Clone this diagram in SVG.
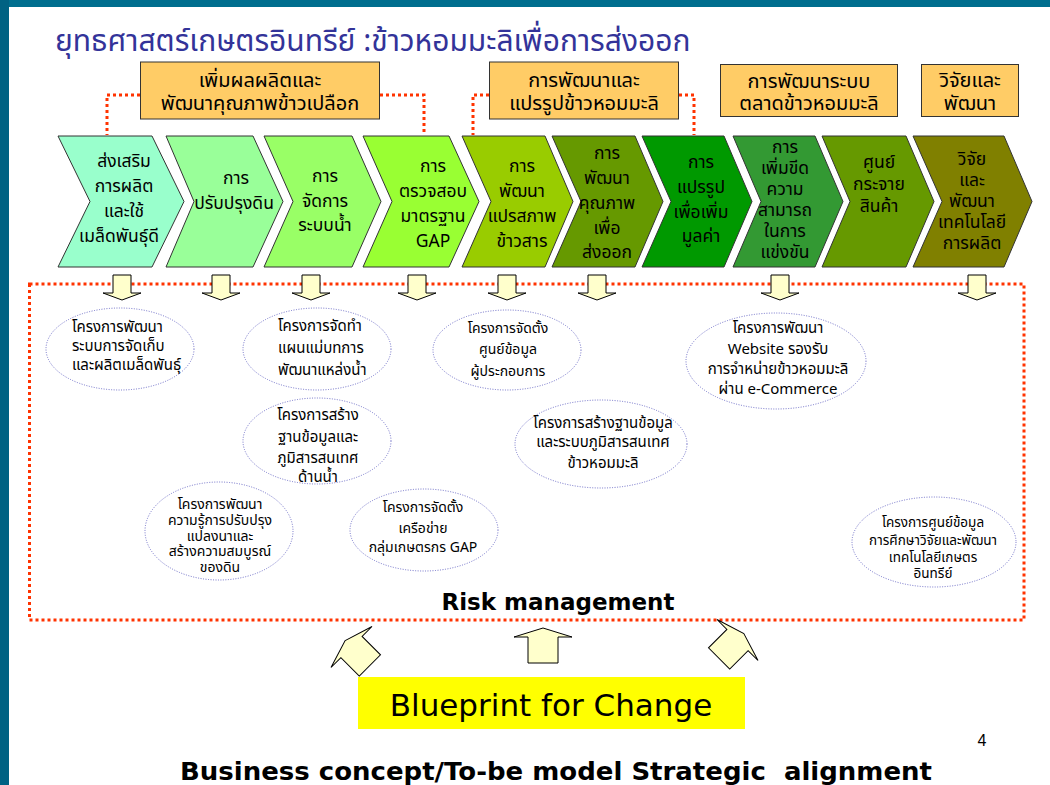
<svg xmlns="http://www.w3.org/2000/svg" width="1050" height="785" viewBox="0 0 1050 785">
  <style>
    .th { font-family: Tahoma, "Noto Sans Thai", "Noto Sans Thai UI", "Noto Sans", "DejaVu Sans", sans-serif; fill: #000; }
    .title { font-size: 30px; fill: #333399; }
    .hdr rect { fill: #FFCC66; stroke: #333; stroke-width: 1; }
    .hdr text { font-size: 20px; text-anchor: middle; }
    .chev polygon { stroke: #333; stroke-width: 1; }
    .chev text { font-size: 17.5px; text-anchor: middle; }
    .proj ellipse { fill: #fff; stroke: #6F6FC8; stroke-width: 1; stroke-dasharray: 1 1.5; }
    .proj text { font-size: 15px; text-anchor: middle; }
    .proj text.left { text-anchor: start; }
    .proj.sm text { font-size: 14px; }
    .proj.xs text { font-size: 13.5px; }
    .red { fill: none; stroke: #FF3300; stroke-width: 3; stroke-dasharray: 3 3; }
    .blk { fill: #FFFFCC; stroke: #000; stroke-width: 1; }
    .bold { font-family: "DejaVu Sans", Verdana, sans-serif; font-weight: bold; fill: #000; }
  </style>
  <defs>
    <!-- small down block arrow, origin at top centre -->
    <polygon id="down" points="-9,0 9,0 9,18 19,18 0,25 -19,18 -9,18" class="blk"/>
    <!-- wide up block arrow, origin at the middle of the head base -->
    <polygon id="up" points="0,-9 29,0 15,0 15,26 -15,26 -15,0 -29,0" class="blk"/>
  </defs>

  <rect width="1050" height="785" fill="#fff"/>
  <!-- slide frame -->
  <rect x="0" y="0" width="1050" height="7" fill="#006E8E"/>
  <rect x="0" y="0" width="9" height="785" fill="#006283"/>

  <text class="th title" x="55" y="51">ยุทธศาสตร์เกษตรอินทรีย์ :ข้าวหอมมะลิเพื่อการส่งออก</text>

  <!-- connectors: dotted brackets, risk frame and arrows -->
  <g id="connectors">
    <polyline class="red" points="140,95 107,95 107,135"/>
    <polyline class="red" points="380,95 424,95 424,135"/>
    <polyline class="red" points="489,95 473,95 473,135"/>
    <polyline class="red" points="679,95 694,95 694,135"/>
    <rect class="red" x="29.5" y="284" width="994.5" height="336"/>
    <use href="#down" x="122" y="275"/>
    <use href="#down" x="221" y="275"/>
    <use href="#down" x="311" y="275"/>
    <use href="#down" x="417" y="275"/>
    <use href="#down" x="507" y="275"/>
    <use href="#down" x="597" y="275"/>
    <use href="#down" x="780" y="275"/>
    <use href="#down" x="977" y="275"/>
    <use href="#up" transform="translate(351.5,647) rotate(-45)"/>
    <use href="#up" transform="translate(543,637)"/>
    <use href="#up" transform="translate(737.5,640) rotate(45)"/>
  </g>

  <!-- theme headers -->
  <g id="hdr1" class="hdr">
    <rect x="140.5" y="62" width="239" height="57"/>
    <text class="th" x="260" y="87">เพิ่มผลผลิตและ</text>
    <text class="th" x="260" y="110">พัฒนาคุณภาพข้าวเปลือก</text>
  </g>
  <g id="hdr2" class="hdr">
    <rect x="489.5" y="62" width="189" height="57"/>
    <text class="th" x="584" y="87">การพัฒนาและ</text>
    <text class="th" x="584" y="110">แปรรูปข้าวหอมมะลิ</text>
  </g>
  <g id="hdr3" class="hdr">
    <rect x="720.5" y="64.5" width="177" height="52"/>
    <text class="th" x="809" y="88">การพัฒนาระบบ</text>
    <text class="th" x="809" y="110">ตลาดข้าวหอมมะลิ</text>
  </g>
  <g id="hdr4" class="hdr">
    <rect x="921.5" y="64.5" width="97" height="52"/>
    <text class="th" x="970" y="87">วิจัยและ</text>
    <text class="th" x="970" y="110">พัฒนา</text>
  </g>

  <!-- value chain -->
  <g id="c1" class="chev">
    <polygon points="58,136 152,136 184,201.5 152,267 58,267 90,201.5" fill="#99FFCC"/>
    <text class="th" x="124" y="167">ส่งเสริม</text>
    <text class="th" x="124" y="192">การผลิต</text>
    <text class="th" x="124" y="217">และใช้</text>
    <text class="th" x="119" y="242">เมล็ดพันธุ์ดี</text>
  </g>
  <g id="c2" class="chev">
    <polygon points="166,136 253,136 283,201.5 253,267 166,267 194,201.5" fill="#99FF99"/>
    <text class="th" x="236" y="184">การ</text>
    <text class="th" x="234" y="209">ปรับปรุงดิน</text>
  </g>
  <g id="c3" class="chev">
    <polygon points="264,136 352,136 381,201.5 352,267 264,267 293,201.5" fill="#99FF66"/>
    <text class="th" x="325" y="182">การ</text>
    <text class="th" x="325" y="207">จัดการ</text>
    <text class="th" x="325" y="231">ระบบน้ำ</text>
  </g>
  <g id="c4" class="chev">
    <polygon points="363,136 449,136 479,201.5 449,267 363,267 392,201.5" fill="#99FF33"/>
    <text class="th" x="433" y="172">การ</text>
    <text class="th" x="433" y="197">ตรวจสอบ</text>
    <text class="th" x="433" y="222">มาตรฐาน</text>
    <text class="th" x="433" y="247">GAP</text>
  </g>
  <g id="c5" class="chev">
    <polygon points="462,136 545,136 573,201.5 545,267 462,267 491,201.5" fill="#99CC00"/>
    <text class="th" x="522" y="172">การ</text>
    <text class="th" x="522" y="197">พัฒนา</text>
    <text class="th" x="522" y="222">แปรสภาพ</text>
    <text class="th" x="522" y="247">ข้าวสาร</text>
  </g>
  <g id="c6" class="chev">
    <polygon points="552,136 635,136 663,201.5 635,267 552,267 581,201.5" fill="#669900"/>
    <text class="th" x="607" y="159">การ</text>
    <text class="th" x="607" y="184">พัฒนา</text>
    <text class="th" x="607" y="209">คุณภาพ</text>
    <text class="th" x="607" y="234">เพื่อ</text>
    <text class="th" x="607" y="258">ส่งออก</text>
  </g>
  <g id="c7" class="chev">
    <polygon points="642,136 724,136 752,201.5 724,267 642,267 671,201.5" fill="#009900"/>
    <text class="th" x="701" y="168">การ</text>
    <text class="th" x="701" y="193">แปรรูป</text>
    <text class="th" x="701" y="218">เพื่อเพิ่ม</text>
    <text class="th" x="701" y="242">มูลค่า</text>
  </g>
  <g id="c8" class="chev">
    <polygon points="733,136 815,136 843,201.5 815,267 733,267 761,201.5" fill="#339933"/>
    <text class="th" x="785" y="153">การ</text>
    <text class="th" x="785" y="174">เพิ่มขีด</text>
    <text class="th" x="785" y="195">ความ</text>
    <text class="th" x="785" y="216">สามารถ</text>
    <text class="th" x="785" y="237">ในการ</text>
    <text class="th" x="785" y="258">แข่งขัน</text>
  </g>
  <g id="c9" class="chev">
    <polygon points="822,136 906,136 934,201.5 906,267 822,267 850,201.5" fill="#669900"/>
    <text class="th" x="879" y="168">ศูนย์</text>
    <text class="th" x="879" y="190">กระจาย</text>
    <text class="th" x="879" y="212">สินค้า</text>
  </g>
  <g id="c10" class="chev">
    <polygon points="913,136 1004,136 1032,201.5 1004,267 913,267 942,201.5" fill="#808000"/>
    <text class="th" x="972" y="165">วิจัย</text>
    <text class="th" x="972" y="186">และ</text>
    <text class="th" x="972" y="207">พัฒนา</text>
    <text class="th" x="972" y="228">เทคโนโลยี</text>
    <text class="th" x="972" y="249">การผลิต</text>
  </g>

  <!-- projects -->
  <g id="p1" class="proj">
    <ellipse cx="120" cy="349" rx="74" ry="41"/>
    <text class="th left" x="72" y="332">โครงการพัฒนา</text>
    <text class="th left" x="72" y="351">ระบบการจัดเก็บ</text>
    <text class="th left" x="72" y="370">และผลิตเมล็ดพันธุ์</text>
  </g>
  <g id="p2" class="proj">
    <ellipse cx="317" cy="349" rx="74" ry="41"/>
    <text class="th left" x="278" y="331">โครงการจัดทำ</text>
    <text class="th left" x="278" y="353">แผนแม่บทการ</text>
    <text class="th left" x="278" y="375">พัฒนาแหล่งน้ำ</text>
  </g>
  <g id="p3" class="proj">
    <ellipse cx="317" cy="441" rx="74" ry="43"/>
    <text class="th" x="318" y="420">โครงการสร้าง</text>
    <text class="th" x="318" y="442">ฐานข้อมูลและ</text>
    <text class="th" x="318" y="463">ภูมิสารสนเทศ</text>
    <text class="th" x="318" y="482">ด้านน้ำ</text>
  </g>
  <g id="p4" class="proj sm">
    <ellipse cx="219" cy="531" rx="74" ry="49"/>
    <text class="th" x="220" y="509">โครงการพัฒนา</text>
    <text class="th" x="220" y="525">ความรู้การปรับปรุง</text>
    <text class="th" x="220" y="541">แปลงนาและ</text>
    <text class="th" x="220" y="556">สร้างความสมบูรณ์</text>
    <text class="th" x="220" y="572">ของดิน</text>
  </g>
  <g id="p5" class="proj sm">
    <ellipse cx="424" cy="530" rx="74" ry="41"/>
    <text class="th" x="423" y="512">โครงการจัดตั้ง</text>
    <text class="th" x="423" y="533">เครือข่าย</text>
    <text class="th" x="423" y="552">กลุ่มเกษตรกร GAP</text>
  </g>
  <g id="p6" class="proj sm">
    <ellipse cx="507" cy="350" rx="74" ry="40"/>
    <text class="th" x="508" y="333">โครงการจัดตั้ง</text>
    <text class="th" x="508" y="354">ศูนย์ข้อมูล</text>
    <text class="th" x="508" y="376">ผู้ประกอบการ</text>
  </g>
  <g id="p7" class="proj">
    <ellipse cx="776" cy="361" rx="90" ry="48"/>
    <text class="th" x="778" y="333">โครงการพัฒนา</text>
    <text class="th" x="778" y="354">Website รองรับ</text>
    <text class="th" x="778" y="374">การจำหน่ายข้าวหอมมะลิ</text>
    <text class="th" x="778" y="394">ผ่าน e-Commerce</text>
  </g>
  <g id="p8" class="proj">
    <ellipse cx="601" cy="444" rx="86" ry="44"/>
    <text class="th" x="603" y="428">โครงการสร้างฐานข้อมูล</text>
    <text class="th" x="603" y="447">และระบบภูมิสารสนเทศ</text>
    <text class="th" x="603" y="468">ข้าวหอมมะลิ</text>
  </g>
  <g id="p9" class="proj xs">
    <ellipse cx="934" cy="542" rx="82" ry="45"/>
    <text class="th" x="933" y="527">โครงการศูนย์ข้อมูล</text>
    <text class="th" x="933" y="545">การศึกษาวิจัยและพัฒนา</text>
    <text class="th" x="933" y="562">เทคโนโลยีเกษตร</text>
    <text class="th" x="933" y="578">อินทรีย์</text>
  </g>

  <text class="bold" x="558" y="610" font-size="23" text-anchor="middle">Risk management</text>

  <g id="blueprint">
    <rect x="358" y="677" width="387" height="52" fill="#FFFF00"/>
    <text x="551" y="716" font-family="Tahoma, 'DejaVu Sans', sans-serif" font-size="31" text-anchor="middle" fill="#000">Blueprint for Change</text>
  </g>

  <text x="982" y="746" font-family="'Liberation Sans', Arial, sans-serif" font-size="16" text-anchor="middle" fill="#000">4</text>

  <text class="bold" x="556" y="780" font-size="25" text-anchor="middle" textLength="752" lengthAdjust="spacingAndGlyphs">Business concept/To-be model Strategic&#160; alignment</text>
</svg>
